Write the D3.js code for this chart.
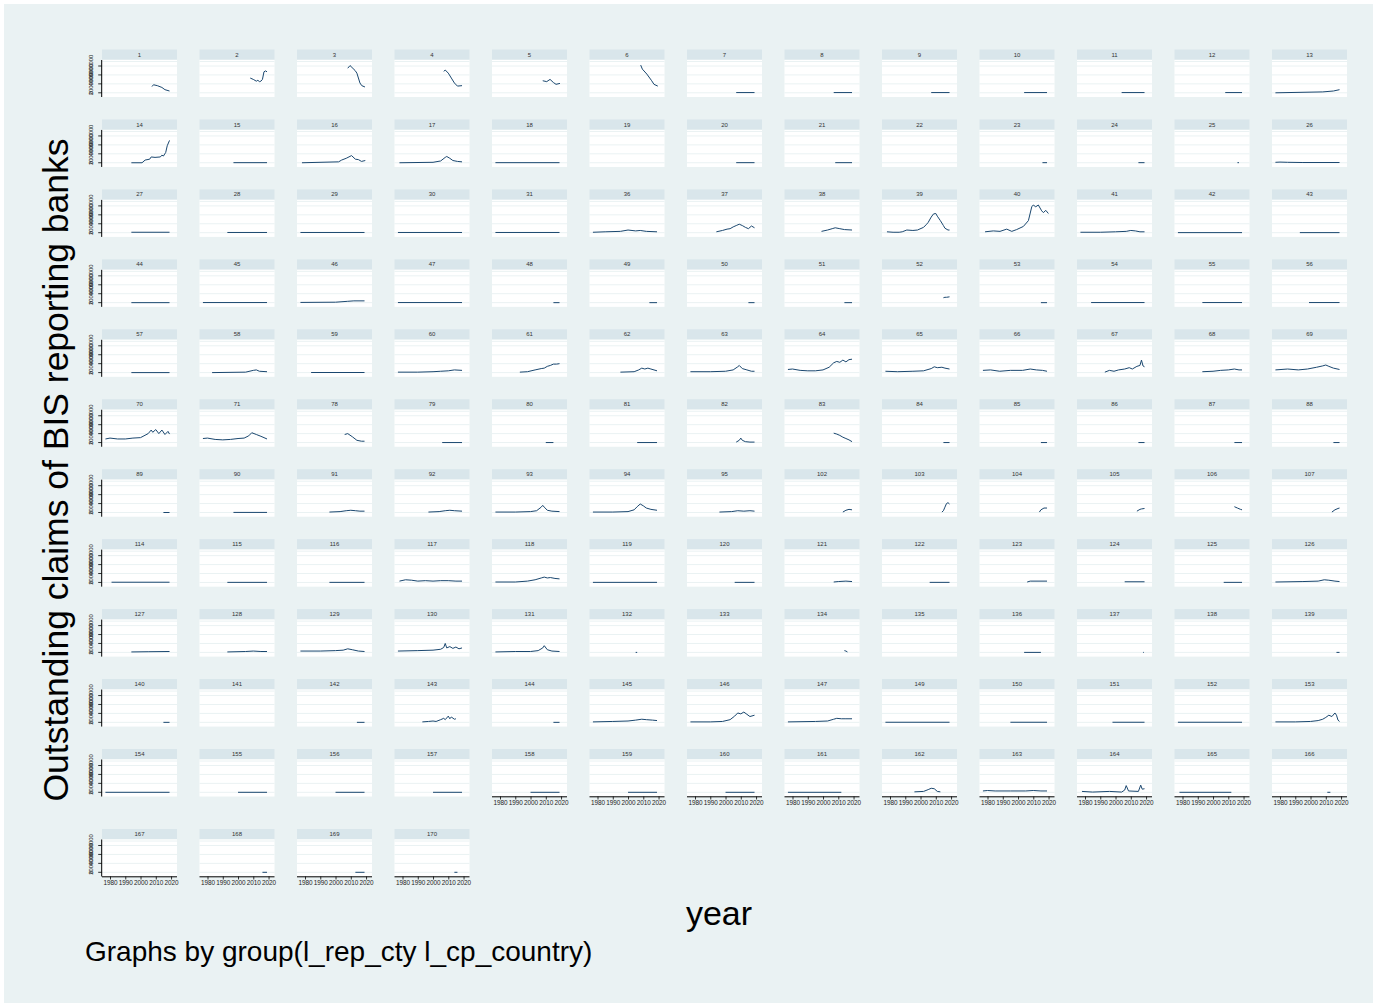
<!DOCTYPE html>
<html><head><meta charset="utf-8">
<script src="https://cdn.jsdelivr.net/npm/d3@7"></script>
<style>body{margin:0;background:#fff}svg{display:block}text{font-family:"Liberation Sans",Arial,sans-serif}</style>
</head><body>
<svg id="c" width="1377" height="1007"></svg>
<script>
// ---- data (values in millions) ----
const xTickYears = [1980, 1990, 2000, 2010, 2020];
const yTickValues = [0, 2, 4, 6];
const yTickLabels = ["0", "2000000", "4000000", "6000000"];
const yTitle = "Outstanding claims of BIS reporting banks";
const xTitle = "year";
const note = "Graphs by group(l_rep_cty l_cp_country)";

const row1 = [
 [1,[2007.5,2008.5,2011,2014,2016,2019],[1.4,1.8,1.6,1.2,0.7,0.4]],
 [2,[2008,2010,2012,2013,2014,2015,2016,2017,2018,2019],[3.3,3.0,2.6,2.8,2.5,2.6,3.0,4.7,4.9,4.7]],
 [3,[2008,2009.5,2012.8,2014,2016,2017.2,2019.3],[5.5,6.1,5.0,4.4,2.2,1.6,1.3]],
 [4,[2007,2008,2010,2012,2014,2016,2019],[4.8,5.1,4.4,3.3,2.2,1.5,1.6]],
 [5,[2008,2010.6,2012.8,2015,2016.7,2019.3],[2.7,2.5,3.0,2.3,1.9,2.1]],
 [6,[2008.3,2009.4,2012.3,2015.5,2017,2019.5],[6.2,5.3,4.2,2.7,1.9,1.5]],
 [7,[2007,2019],[0.05,0.05]],
 [8,[2007,2019],[0.05,0.05]],
 [9,[2007,2019],[0.05,0.05]],
 [10,[2004,2019],[0.05,0.05]],
 [11,[2004,2019],[0.05,0.05]],
 [12,[2008,2019],[0.05,0.05]],
 [13,[1977,2008,2015,2019],[0,0.2,0.4,0.7]]
];
const row2 = [
 [14,[1994,2001,2003,2006,2007,2009.5,2013,2014,2015,2016.5,2017.5,2019],[0,0,0.6,0.8,1.3,1.2,1.3,1.7,1.5,2.3,3.8,5.0]],
 [15,[1997,2019],[0.02,0.02]],
 [16,[1978,2002,2004,2007,2010.5,2013,2015,2017,2019.5],[0,0.2,0.6,1.0,1.6,0.8,0.7,0.3,0.5]],
 [17,[1978,2000,2005,2008,2009,2011,2013,2016,2019],[0,0.1,0.4,1.2,1.4,1.0,0.5,0.3,0.2]],
 [18,[1977,2019],[0.02,0.02]],
 [19,[],[]],
 [20,[2007,2019],[0.02,0.02]],
 [21,[2008,2019],[0.02,0.02]],
 [22,[],[]],
 [23,[2016,2019],[0.02,0.02]],
 [24,[2015,2019],[0.02,0.02]],
 [25,[2016,2017],[0.02,0.02]],
 [26,[1977,1980,1985,1995,2019],[0.1,0.15,0.1,0.05,0.05]]
];
const row3 = [
 [27,[1994,2019],[0.1,0.1]],
 [28,[1993,2019],[0.05,0.05]],
 [29,[1977,2019],[0.05,0.05]],
 [30,[1977,2019],[0.05,0.05]],
 [31,[1977,2019],[0.05,0.05]],
 [36,[1977,1985,1995,2000,2005,2008,2012,2019],[0.1,0.2,0.3,0.6,0.4,0.5,0.3,0.2]],
 [37,[1994,1998,2001,2003,2005,2007,2009,2011,2013,2015,2017,2019],[0.2,0.5,0.8,0.9,1.3,1.6,1.9,1.6,1.2,0.9,1.5,1.1]],
 [38,[1999,2003,2006,2008,2011,2014,2019],[0.3,0.6,0.9,1.1,0.9,0.7,0.6]],
 [39,[1978,1982,1986,1988,1991,1995,1998,2002,2004,2005,2007,2008.5,2010,2011,2013,2015,2016,2018,2019],[0.2,0.1,0.1,0.2,0.6,0.5,0.6,1.2,1.9,2.3,3.5,4.2,4.3,3.7,2.7,1.6,1.0,0.6,0.6]],
 [40,[1978.4,1983.8,1988.2,1992.6,1995.9,1999.1,2003.5,2006.8,2009,2010,2011.6,2013.3,2015.5,2016.6,2018.2,2019.9],[0.2,0.4,0.3,0.8,0.3,0.7,1.4,2.7,5.8,6.2,5.8,6.2,4.9,4.5,5.0,4.3]],
 [41,[1977,1990,2000,2007,2010,2013,2016,2019],[0.1,0.1,0.2,0.3,0.5,0.4,0.2,0.2]],
 [42,[1977,2019],[0.02,0.02]],
 [43,[1993,2019],[0.02,0.02]]
];
const row4 = [
 [44,[1994,2019],[0,0]],
 [45,[1977,2019],[0.02,0.02]],
 [46,[1977,2000,2008,2012,2019],[0.05,0.1,0.3,0.4,0.4]],
 [47,[1977,2019],[0.02,0.02]],
 [48,[2015,2019],[0,0]],
 [49,[2014,2019],[0,0]],
 [50,[2015,2019],[0,0]],
 [51,[2014,2019],[0,0]],
 [52,[2015,2016,2017,2019],[1.1,1.2,1.2,1.3]],
 [53,[2015,2019],[0,0]],
 [54,[1984,2019],[0.02,0.02]],
 [55,[1993,2019],[0.02,0.02]],
 [56,[1999,2019],[0.02,0.02]]
];
const row5 = [
 [57,[1994,2019],[0,0]],
 [58,[1983,2005,2010,2012,2014,2019],[0,0.1,0.5,0.6,0.3,0.2]],
 [59,[1984,2019],[0.02,0.02]],
 [60,[1977,1990,2000,2005,2010,2014,2019],[0.1,0.1,0.2,0.3,0.4,0.6,0.5]],
 [61,[1993,1998,2003,2007,2009,2011,2013,2015,2017,2019],[0.1,0.2,0.6,0.9,1.0,1.4,1.6,1.9,1.9,2.0]],
 [62,[1995,2004,2007,2009,2011,2013,2015,2019],[0.1,0.2,0.6,1.0,0.8,1.0,0.8,0.4]],
 [63,[1977,1990,2000,2005,2008,2009,2011,2014,2017,2019],[0.2,0.2,0.3,0.6,1.3,1.6,0.9,0.6,0.3,0.3]],
 [64,[1977,1980,1985,1990,1995,2000,2004,2007,2009,2011,2013,2015,2017,2019],[0.7,0.8,0.5,0.4,0.4,0.6,1.2,2.2,2.5,2.3,2.8,2.4,2.9,3.0]],
 [65,[1977,1985,1995,2002,2007,2009,2011,2014,2016,2019],[0.3,0.2,0.3,0.4,0.9,1.3,1.1,1.2,1.0,0.8]],
 [66,[1977,1982,1988,1995,2003,2008,2012,2016,2019],[0.5,0.6,0.3,0.5,0.5,0.8,0.6,0.5,0.3]],
 [67,[1993,1996,1999,2002,2006,2009,2011,2014,2016,2017,2018,2019],[0.1,0.5,0.3,0.6,0.8,1.1,0.8,1.4,1.6,2.8,1.5,1.3]],
 [68,[1993,2000,2005,2010,2014,2017,2019],[0.2,0.3,0.5,0.6,0.8,0.6,0.6]],
 [69,[1977,1985,1992,1998,2004,2008,2010,2012,2015,2019],[0.6,0.8,0.6,0.8,1.2,1.5,1.7,1.4,1.0,0.7]]
];
const row6 = [
 [70,[1977,1980,1985,1990,1995,2000,2005,2007,2008,2010,2012,2014,2016,2018,2019],[0.8,1.0,0.8,0.8,1.0,1.1,2.0,2.8,2.3,2.9,2.0,2.8,1.8,2.5,1.9]],
 [71,[1977,1980,1985,1990,1995,2000,2004,2007,2009,2012,2015,2019],[0.9,1.0,0.7,0.6,0.7,0.9,1.0,1.5,2.2,1.8,1.4,0.8]],
 [78,[2006,2008,2011,2014,2017,2019],[1.8,2.0,1.3,0.5,0.3,0.3]],
 [79,[2006,2019],[0,0]],
 [80,[2010,2015],[0,0]],
 [81,[2006,2019],[0,0]],
 [82,[2007,2009,2010,2011,2013,2016,2019],[0.1,0.5,1.0,0.5,0.2,0.1,0.1]],
 [83,[2007,2009,2011,2013,2015,2017,2019],[2.1,1.9,1.6,1.2,0.9,0.6,0.2]],
 [84,[2015,2019],[0,0]],
 [85,[2015,2019],[0,0]],
 [86,[2015,2019],[0,0]],
 [87,[2014,2019],[0,0]],
 [88,[2015,2019],[0,0]]
];
const row7 = [
 [89,[2015,2019],[0,0]],
 [90,[1997,2019],[0.02,0.02]],
 [91,[1996,2003,2007,2010,2013,2016,2019],[0.1,0.2,0.4,0.5,0.4,0.3,0.3]],
 [92,[1997,2004,2008,2011,2014,2019],[0.1,0.2,0.4,0.5,0.4,0.3]],
 [93,[1977,1990,2000,2004,2007,2008,2009,2011,2014,2019],[0.1,0.1,0.2,0.4,1.2,1.6,1.2,0.5,0.3,0.2]],
 [94,[1977,1990,2000,2004,2006,2008,2010,2012,2015,2019],[0.1,0.1,0.2,0.6,1.3,1.9,1.5,1.0,0.7,0.5]],
 [95,[1996,2004,2008,2012,2016,2019],[0.1,0.2,0.4,0.3,0.4,0.3]],
 [102,[2013,2015,2017,2019],[0.1,0.5,0.7,0.6]],
 [103,[2014,2015,2016,2017,2018,2019],[0.1,0.4,1.2,2.0,2.2,1.9]],
 [104,[2014,2015,2017,2019],[0.1,0.6,1.0,1.0]],
 [105,[2014,2016,2017,2019],[0.3,0.7,0.8,0.9]],
 [106,[2014,2016,2018,2019],[1.3,1.0,0.7,0.6]],
 [107,[2014,2016,2018,2019],[0.1,0.6,0.9,1.0]]
];
const row8 = [
 [114,[1981,2019],[0.05,0.05]],
 [115,[1993,2019],[0.02,0.02]],
 [116,[1996,2019],[0.02,0.02]],
 [117,[1978,1982,1986,1990,1995,2000,2005,2010,2015,2019],[0.3,0.6,0.5,0.3,0.4,0.3,0.4,0.4,0.3,0.3]],
 [118,[1977,1990,1998,2003,2007,2009,2011,2013,2016,2019],[0.1,0.1,0.3,0.6,1.0,1.2,1.0,1.1,0.9,0.8]],
 [119,[1977,2019],[0.02,0.02]],
 [120,[2006,2019],[0.02,0.02]],
 [121,[2007,2010,2015,2019],[0.1,0.2,0.3,0.2]],
 [122,[2006,2019],[0.02,0.02]],
 [123,[2006,2008,2019],[0.1,0.3,0.3]],
 [124,[2006,2019],[0.15,0.15]],
 [125,[2007,2019],[0.02,0.02]],
 [126,[1977,1995,2005,2009,2012,2016,2019],[0.1,0.2,0.3,0.6,0.5,0.3,0.2]]
];
const row9 = [
 [127,[1994,2005,2019],[0.1,0.15,0.2]],
 [128,[1993,2005,2010,2015,2019],[0.1,0.2,0.3,0.2,0.2]],
 [129,[1977,1990,2000,2005,2008,2011,2015,2019],[0.3,0.3,0.4,0.5,0.8,0.6,0.3,0.2]],
 [130,[1977,1990,2000,2005,2007,2008,2009,2011,2013,2015,2017,2019],[0.3,0.4,0.5,0.7,1.1,2.0,1.0,1.3,0.9,1.2,0.8,1.0]],
 [131,[1977,1990,2000,2005,2008,2009,2011,2014,2019],[0.1,0.2,0.2,0.4,1.0,1.5,0.6,0.3,0.2]],
 [132,[2005,2006],[0,0]],
 [133,[],[]],
 [134,[2014,2015,2016],[0.4,0.3,0.1]],
 [135,[],[]],
 [136,[2004,2015],[0,0]],
 [137,[2018,2018.5],[0,0]],
 [138,[],[]],
 [139,[2017,2019],[0,0]]
];
const row10 = [
 [140,[2015,2019],[0,0]],
 [141,[],[]],
 [142,[2014,2019],[0,0]],
 [143,[1993,1997,2000,2002,2005,2007,2008,2010,2011,2012,2014,2015],[0.1,0.2,0.3,0.2,0.6,0.9,0.6,1.4,0.8,1.2,0.7,0.8]],
 [144,[2015,2019],[0,0]],
 [145,[1977,1990,2000,2005,2009,2012,2016,2019],[0.1,0.2,0.3,0.5,0.7,0.6,0.5,0.4]],
 [146,[1977,1990,1998,2003,2006,2008,2010,2012,2014,2016,2019],[0.1,0.1,0.2,0.6,1.4,2.1,1.9,2.3,1.8,1.3,1.6]],
 [147,[1977,1995,2003,2007,2009,2012,2015,2019],[0.1,0.2,0.3,0.7,0.9,0.8,0.8,0.8]],
 [149,[1977,2019],[0.02,0.02]],
 [150,[1995,2019],[0.02,0.02]],
 [151,[1998,2019],[0.02,0.02]],
 [152,[1977,2019],[0.02,0.02]],
 [153,[1977,1990,2000,2005,2008,2010,2012,2014,2016,2017,2018,2019],[0.1,0.1,0.2,0.4,0.7,1.1,1.6,1.3,2.1,1.6,0.5,0.2]]
];
const row11 = [
 [154,[1977,2019],[0,0]],
 [155,[2000,2019],[0,0]],
 [156,[2000,2019],[0,0]],
 [157,[2000,2019],[0,0]],
 [158,[2000,2019],[0,0]],
 [159,[2000,2019],[0,0]],
 [160,[2000,2019],[0,0]],
 [161,[1977,2012],[0,0]],
 [162,[1996,2002,2005,2007,2009,2011,2013],[0.1,0.2,0.6,0.9,0.8,0.2,0.1]],
 [163,[1977,1980,1985,1995,2005,2010,2015,2019],[0.3,0.4,0.3,0.3,0.3,0.4,0.3,0.3]],
 [164,[1978,1985,1996,2004,2006,2007,2008.5,2015,2016.5,2017.5,2019],[0.2,0.05,0.2,0.05,0.5,1.5,0.3,0.2,1.6,0.7,0.8]],
 [165,[1978,2012],[0,0]],
 [166,[2011,2013],[0,0]]
];
const row12 = [
 [167,[],[]],
 [168,[2016,2019],[0,0]],
 [169,[2013,2019],[0,0]],
 [170,[2014,2016],[0,0]]
];
const rows = [row1,row2,row3,row4,row5,row6,row7,row8,row9,row10,row11,row12];

// ---- layout ----
const W = 1377, H = 1007;
const colX0 = 102, colStep = 97.5, panelW = 75;
const rowY0 = 49.5, rowStep = 69.95, lastRowY = 829;
const stripH = 10, plotTop = 10.5, plotBot = 47.5;

const svg = d3.select("#c");
svg.append("rect").attr("x",0).attr("y",0).attr("width",W).attr("height",H).attr("fill","#ffffff");
svg.append("rect").attr("x",4).attr("y",4).attr("width",W-8).attr("height",H-8).attr("fill","#eaf2f3");

const x = d3.scaleLinear().domain([1974.75, 2023.9]).range([0, panelW]);
const y = d3.scaleLinear().domain([0, 6]).range([43.3, 16.5]);

const lineGen = d3.line().x(d => x(d[0])).y(d => y(d[1]));

rows.forEach((row, r) => {
  const top = r < 11 ? rowY0 + r * rowStep : lastRowY;
  row.forEach((p, c) => {
    const [label, yrs, vals] = p;
    const g = svg.append("g").attr("transform", `translate(${colX0 + c*colStep},${top})`);
    g.append("rect").attr("x",0).attr("y",0).attr("width",panelW).attr("height",stripH).attr("fill","#d9e6eb");
    g.append("text").attr("x",panelW/2).attr("y",stripH/2+2.1).attr("text-anchor","middle")
      .attr("font-size",6).attr("fill","#333").text(label);
    g.append("rect").attr("x",0).attr("y",plotTop).attr("width",panelW).attr("height",plotBot-plotTop).attr("fill","#ffffff");
    // gridlines
    g.selectAll("line.grid").data(yTickValues).enter().append("line")
      .attr("x1",0).attr("x2",panelW).attr("y1",d=>y(d)).attr("y2",d=>y(d))
      .attr("stroke","#eaf2f3").attr("stroke-width",1);
    g.append("line").attr("x1",0).attr("x2",panelW).attr("y1",plotTop+1.5).attr("y2",plotTop+1.5)
      .attr("stroke","#eaf2f3").attr("stroke-width",1);
    // series
    if (yrs.length) {
      const pts = yrs.map((yr,i)=>[yr, vals[i]]);
      g.append("path").attr("d", lineGen(pts)).attr("fill","none")
        .attr("stroke","#1a476f").attr("stroke-width",1);
    }
    // y axis on first column
    if (c === 0) {
      const ya = g.append("g").attr("transform","translate(-0.3,0)")
        .call(d3.axisLeft(y).tickValues(yTickValues).tickSize(3.5).tickPadding(1)
          .tickFormat((d,i)=>yTickLabels[i]));
      ya.select(".domain").attr("d",`M0,${plotTop}V${plotBot}`).attr("stroke","#000").attr("stroke-width",1);
      ya.selectAll(".tick line").attr("stroke","#000").attr("stroke-width",0.8);
      ya.selectAll(".tick").attr("transform", null);
      ya.selectAll(".tick line").attr("y1",d=>y(d)).attr("y2",d=>y(d));
      ya.selectAll(".tick text").attr("font-size",5.8).attr("fill","#222")
        .attr("text-anchor","middle").attr("dy","0.35em")
        .each(function(d){ d3.select(this).attr("x",-11).attr("y", y(d)).attr("transform", `rotate(-90,-11,${y(d)})`); });
    }
    // x axis on bottom panels
    const hasX = (r === 11) || (r === 10 && c >= 4);
    if (hasX) {
      const xa = g.append("g").attr("transform",`translate(0,${plotBot})`)
        .call(d3.axisBottom(x).tickValues(xTickYears).tickSize(3).tickPadding(1).tickFormat(d3.format("d")));
      xa.select(".domain").attr("d",`M0,0.3H${panelW}`).attr("stroke","#000").attr("stroke-width",1);
      xa.selectAll(".tick line").attr("stroke","#000").attr("stroke-width",0.8);
      xa.selectAll(".tick text").attr("font-size",6.4).attr("fill","#222").attr("font-family","Liberation Sans, Arial, sans-serif");
    }
  });
});

// titles
svg.append("text").attr("transform","translate(68,470) rotate(-90)").attr("text-anchor","middle")
  .attr("font-size",35.5).attr("fill","#000").text(yTitle);
svg.append("text").attr("x",719).attr("y",925).attr("text-anchor","middle")
  .attr("font-size",34).attr("fill","#000").text(xTitle);
svg.append("text").attr("x",85).attr("y",961).attr("text-anchor","start")
  .attr("font-size",28).attr("fill","#000").text(note);
</script>
</body></html>
